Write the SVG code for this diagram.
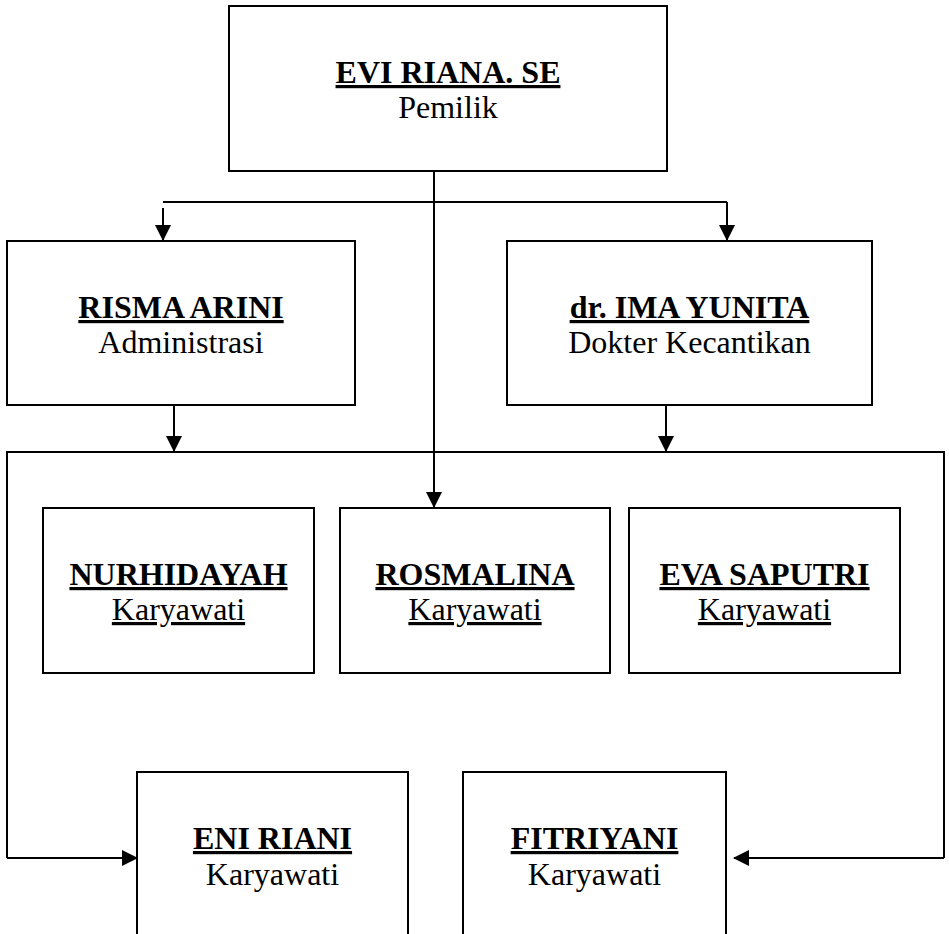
<svg xmlns="http://www.w3.org/2000/svg" width="949" height="934" viewBox="0 0 949 934">
<style>
.box{fill:#fff;stroke:#000;stroke-width:2}
.ln{fill:none;stroke:#000;stroke-width:2}
text{font-family:"Liberation Serif","Times New Roman",serif;font-size:32px;text-anchor:middle;fill:#000}
.t{font-weight:bold;text-decoration:underline}
.u{text-decoration:underline}
</style>
<defs>
<marker id="ah" markerWidth="16" markerHeight="16" viewBox="0 0 16 16" refX="15" refY="8" orient="auto" markerUnits="userSpaceOnUse">
<path d="M0,0 L16,8 L0,16 Z" fill="#000"/>
</marker>
</defs>
<rect width="949" height="934" fill="#fff"/>
<g id="connectors">
<path class="ln" d="M434,171 V507" marker-end="url(#ah)"/>
<path class="ln" d="M163,202 H727"/>
<path class="ln" d="M163,208 V240" marker-end="url(#ah)"/>
<path class="ln" d="M727,202 V240" marker-end="url(#ah)"/>
<path class="ln" d="M174,405 V451" marker-end="url(#ah)"/>
<path class="ln" d="M666,405 V451" marker-end="url(#ah)"/>
<path class="ln" d="M7,858 V452 H944 V858"/>
<path class="ln" d="M7,858 H137" marker-end="url(#ah)"/>
<path class="ln" d="M944,858 H734" marker-end="url(#ah)"/>
</g>
<g id="evi">
<rect class="box" x="229" y="6" width="438" height="165"/>
<text class="t" x="448" y="83">EVI RIANA. SE</text>
<text x="448" y="118">Pemilik</text>
</g>
<g id="risma">
<rect class="box" x="7" y="241" width="348" height="164"/>
<text class="t" x="181" y="318">RISMA ARINI</text>
<text x="181" y="353">Administrasi</text>
</g>
<g id="ima">
<rect class="box" x="507" y="241" width="365" height="164"/>
<text class="t" x="689.5" y="318">dr. IMA YUNITA</text>
<text x="689.5" y="353">Dokter Kecantikan</text>
</g>
<g id="nurhidayah">
<rect class="box" x="43" y="508" width="271" height="165"/>
<text class="t" x="178.5" y="585">NURHIDAYAH</text>
<text class="u" x="178.5" y="620">Karyawati</text>
</g>
<g id="rosmalina">
<rect class="box" x="340" y="508" width="270" height="165"/>
<text class="t" x="475" y="585">ROSMALINA</text>
<text class="u" x="475" y="620">Karyawati</text>
</g>
<g id="eva">
<rect class="box" x="629" y="508" width="271" height="165"/>
<text class="t" x="764.5" y="585">EVA SAPUTRI</text>
<text class="u" x="764.5" y="620">Karyawati</text>
</g>
<g id="eni">
<rect class="box" x="137" y="772" width="271" height="180"/>
<text class="t" x="272.5" y="849">ENI RIANI</text>
<text x="272.5" y="885">Karyawati</text>
</g>
<g id="fitriyani">
<rect class="box" x="463" y="772" width="263" height="180"/>
<text class="t" x="594.5" y="849">FITRIYANI</text>
<text x="594.5" y="885">Karyawati</text>
</g>
</svg>
